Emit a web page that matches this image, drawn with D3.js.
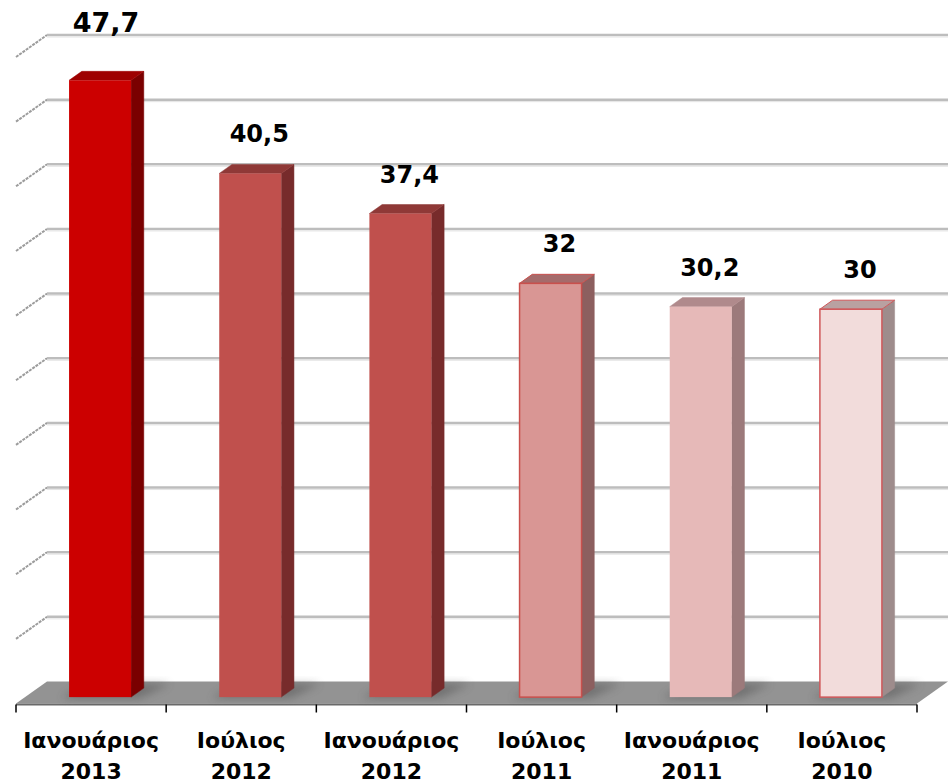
<!DOCTYPE html>
<html>
<head>
<meta charset="utf-8">
<script src="https://cdn.jsdelivr.net/npm/d3@7"></script>
<style>
  html, body { margin: 0; padding: 0; background: #ffffff; }
  svg { display: block; }
  text { font-family: "DejaVu Sans", Verdana, sans-serif; font-weight: bold; fill: #000; }
</style>
</head>
<body>
<div id="chart"></div>
<script>
// Survey results by period (most recent first)
const months = ["Ιανουάριος", "Ιούλιος", "Ιανουάριος", "Ιούλιος", "Ιανουάριος", "Ιούλιος"];
const years  = ["2013", "2012", "2012", "2011", "2011", "2010"];
const values = [47.7, 40.5, 37.4, 32, 30.2, 30];
const valueLabels = ["47,7", "40,5", "37,4", "32", "30,2", "30"];
const gridTicks = [5, 10, 15, 20, 25, 30, 35, 40, 45, 50];

// Face colours for each bar: front, side, top, outline
const palette = [
  { front: "#cc0000", side: "#7a0000", top: "#9e0000", stroke: "none" },
  { front: "#c0504d", side: "#772b2b", top: "#8f3937", stroke: "none" },
  { front: "#c0504d", side: "#772b2b", top: "#8f3937", stroke: "none" },
  { front: "#d99694", side: "#8c5f5f", top: "#a56b6b", stroke: "#c9504d" },
  { front: "#e6b9b8", side: "#9c7a7b", top: "#b08a8c", stroke: "none" },
  { front: "#f2dcdb", side: "#9e8c8c", top: "#b9a1a1", stroke: "#d0585a" }
];

const W = 948, H = 783;
const svg = d3.select("#chart").append("svg").attr("width", W).attr("height", H);

const defs = svg.append("defs");
defs.append("filter").attr("id", "soft").attr("x", "-50%").attr("y", "-50%").attr("width", "200%").attr("height", "200%")
  .append("feGaussianBlur").attr("stdDeviation", 4);

// 3D box geometry
const frontBase = 703.5;            // floor front edge
const depth = { dx: 31, dy: -22 };  // full depth of the plot box
const barZ = 0.29;                  // front face of the bars inside the depth
const barD = 0.41;                  // bar depth as a fraction of the box depth

const ids = months.map((m, i) => i);
const x = d3.scaleBand().domain(ids).range([16, 917]).paddingInner(0.587).paddingOuter(0.2935);
const h = d3.scaleLinear().domain([0, 50]).range([0, 646.5]);

const proj = (px, v, z) => [px + depth.dx * z, frontBase - h(v) + depth.dy * z];
const pts = arr => arr.map(p => p.join(",")).join(" ");

// Left wall grid lines (diagonals) and back wall grid lines
const grid = svg.append("g");
grid.selectAll("line.diag").data(gridTicks).join("line")
  .attr("x1", d => proj(16, d, 0)[0]).attr("y1", d => proj(16, d, 0)[1])
  .attr("x2", d => proj(16, d, 1)[0]).attr("y2", d => proj(16, d, 1)[1])
  .attr("stroke", "#9c9c9c").attr("stroke-width", 2).attr("stroke-dasharray", "3,1");
grid.selectAll("line.back").data(gridTicks).join("line")
  .attr("x1", d => proj(16, d, 1)[0]).attr("y1", d => proj(16, d, 1)[1])
  .attr("x2", W).attr("y2", d => proj(16, d, 1)[1])
  .attr("stroke", "#bdbdbd").attr("stroke-width", 2.5);
grid.selectAll("line.backhi").data(gridTicks).join("line")
  .attr("x1", d => proj(16, d, 1)[0]).attr("y1", d => proj(16, d, 1)[1] + 2)
  .attr("x2", W).attr("y2", d => proj(16, d, 1)[1] + 2)
  .attr("stroke", "#e4e4e4").attr("stroke-width", 1);

// Floor
const floor = svg.append("g");
floor.append("polygon")
  .attr("points", pts([proj(16, 0, 0), proj(917, 0, 0), proj(917, 0, 1), proj(16, 0, 1)]))
  .attr("fill", "#939393");
floor.append("line").attr("x1", 16).attr("x2", 917).attr("y1", frontBase + 1).attr("y2", frontBase + 1)
  .attr("stroke", "#6a6a6a").attr("stroke-width", 2);

// Soft shadows of the bars on the floor
floor.selectAll("polygon.shadow").data(ids).join("polygon")
  .attr("points", i => {
    const l = x(i) - 6, r = x(i) + x.bandwidth() + 10;
    return pts([proj(l, 0, barZ - 0.05), proj(r, 0, barZ - 0.05), proj(r + 10, 0, barZ + barD + 0.2), proj(l + 4, 0, barZ + barD + 0.2)]);
  })
  .attr("fill", "#4a4a4a").attr("opacity", 0.45).attr("filter", "url(#soft)");

// Category axis ticks at the category boundaries
const bounds = d3.range(ids.length + 1).map(k => 16 + k * x.step());
svg.append("g").selectAll("line").data(bounds).join("line")
  .attr("x1", d => d).attr("x2", d => d).attr("y1", frontBase + 1).attr("y2", frontBase + 9)
  .attr("stroke", "#000").attr("stroke-width", 1.5);

// Bars
const bars = svg.append("g").selectAll("g").data(ids).join("g");
bars.each(function (i) {
  const g = d3.select(this);
  const c = palette[i];
  const l = x(i), r = x(i) + x.bandwidth(), v = values[i];
  const z0 = barZ, z1 = barZ + barD;
  const fl = proj(l, v, z0), fr = proj(r, v, z0), br = proj(r, v, z1), bl = proj(l, v, z1);
  const fr0 = proj(r, 0, z0), br0 = proj(r, 0, z1), fl0 = proj(l, 0, z0);
  // side face
  g.append("polygon").attr("points", pts([fr, br, br0, fr0])).attr("fill", c.side)
    .attr("stroke", c.side).attr("stroke-width", 0.5);
  // top face
  g.append("polygon").attr("points", pts([fl, fr, br, bl])).attr("fill", c.top)
    .attr("stroke", c.stroke === "none" ? c.top : c.stroke).attr("stroke-width", c.stroke === "none" ? 0.5 : 1);
  // front face
  g.append("rect").attr("x", fl[0]).attr("y", fl[1]).attr("width", fr[0] - fl[0]).attr("height", fl0[1] - fl[1])
    .attr("fill", c.front)
    .attr("stroke", c.stroke).attr("stroke-width", c.stroke === "none" ? 0 : 1.5);
});

// Value labels above the bars; the latest result is emphasised
svg.append("g").selectAll("text").data(ids).join("text")
  .attr("x", i => proj(x(i) + x.bandwidth() / 2, values[i], barZ)[0] + (i === 0 ? 6 : 9))
  .attr("y", i => proj(0, values[i], barZ)[1] - (i === 0 ? 48 : 31))
  .attr("text-anchor", "middle")
  .attr("font-size", i => i === 0 ? 27 : 24)
  .text(i => valueLabels[i]);

// Category labels (month / year)
const cat = svg.append("g").selectAll("text").data(ids).join("text")
  .attr("text-anchor", "middle")
  .attr("font-size", 22);
cat.append("tspan").attr("x", i => x(i) + x.bandwidth() / 2).attr("y", 748).text(i => months[i]);
cat.append("tspan").attr("x", i => x(i) + x.bandwidth() / 2).attr("y", 779).text(i => years[i]);
</script>
</body>
</html>
